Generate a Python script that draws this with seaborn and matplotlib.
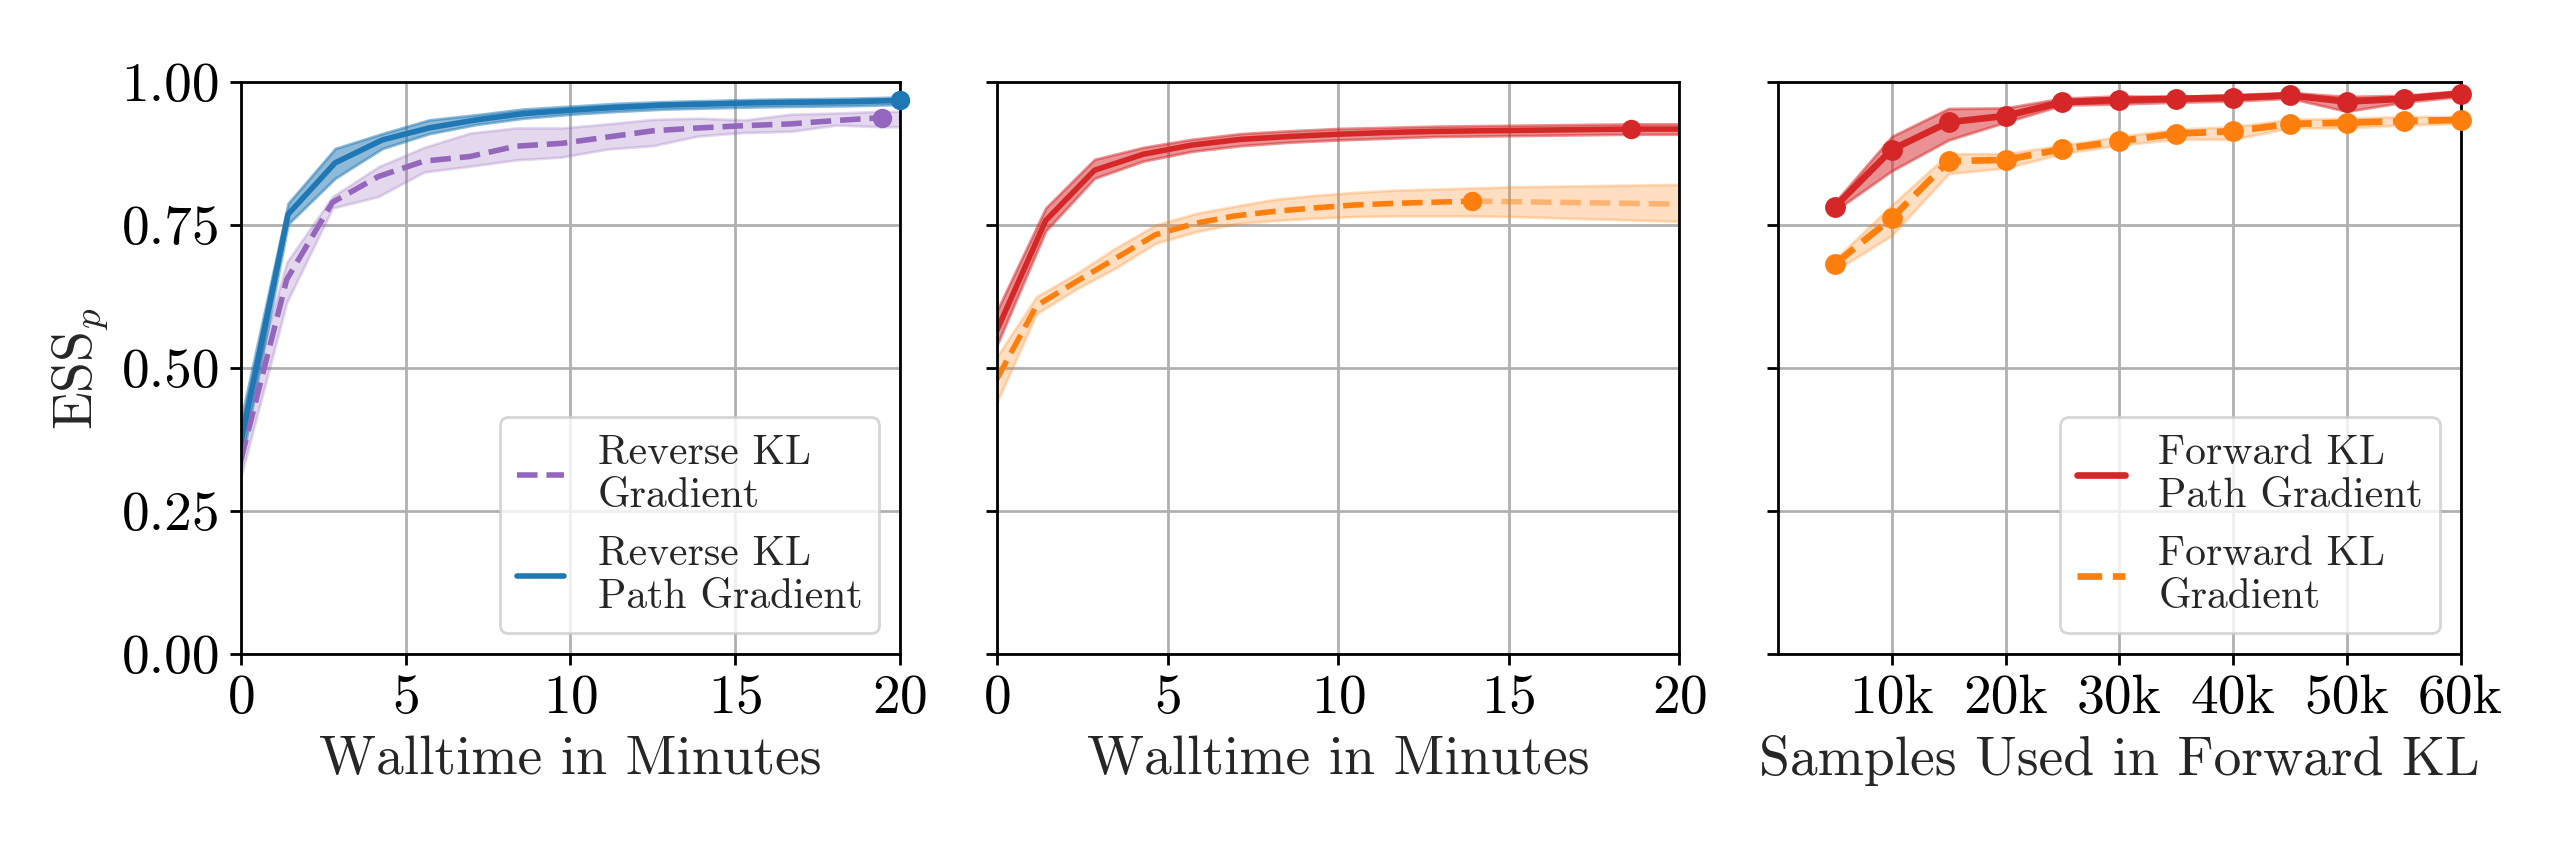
import numpy as np
import matplotlib
matplotlib.use("Agg")
import matplotlib.pyplot as plt
import seaborn as sns

# ---- data ----
# left panel: reverse KL, walltime in minutes
rkl_path_t = [0, 1.43, 2.86, 4.29, 5.71, 7.14, 8.57, 10.0, 11.43, 12.86, 14.29, 15.71, 17.14, 18.57, 20.0]
rkl_path_mean = [0.37, 0.769, 0.859, 0.899, 0.920, 0.934, 0.945, 0.951, 0.956, 0.960, 0.962, 0.964, 0.965, 0.966, 0.968]
rkl_path_lo = [0.33, 0.752, 0.832, 0.884, 0.910, 0.926, 0.937, 0.944, 0.949, 0.953, 0.955, 0.957, 0.958, 0.959, 0.961]
rkl_path_hi = [0.41, 0.788, 0.884, 0.910, 0.934, 0.943, 0.953, 0.958, 0.963, 0.966, 0.968, 0.970, 0.971, 0.972, 0.974]

rkl_grad_t = [0, 1.39, 2.78, 4.17, 5.56, 6.95, 8.34, 9.73, 11.12, 12.51, 13.9, 15.29, 16.68, 18.07, 19.46, 20.85]
rkl_grad_mean = [0.34, 0.655, 0.790, 0.835, 0.862, 0.870, 0.888, 0.893, 0.904, 0.915, 0.920, 0.924, 0.927, 0.933, 0.938, 0.937]
rkl_grad_lo = [0.31, 0.615, 0.780, 0.800, 0.843, 0.853, 0.864, 0.869, 0.883, 0.889, 0.906, 0.912, 0.914, 0.925, 0.922, 0.922]
rkl_grad_hi = [0.40, 0.685, 0.800, 0.852, 0.886, 0.911, 0.920, 0.920, 0.927, 0.935, 0.937, 0.934, 0.944, 0.946, 0.949, 0.949]

# middle panel: forward KL, walltime in minutes
fkl_path_t = [0, 1.43, 2.86, 4.29, 5.71, 7.14, 8.57, 10.0, 11.43, 12.86, 14.29, 15.71, 17.14, 18.57, 20.0]
fkl_path_mean = [0.566, 0.758, 0.846, 0.874, 0.890, 0.900, 0.905, 0.909, 0.912, 0.914, 0.915, 0.916, 0.917, 0.918, 0.918]
fkl_path_lo = [0.54, 0.740, 0.832, 0.862, 0.879, 0.889, 0.895, 0.899, 0.902, 0.905, 0.906, 0.907, 0.908, 0.909, 0.909]
fkl_path_hi = [0.60, 0.780, 0.865, 0.886, 0.900, 0.910, 0.915, 0.919, 0.921, 0.923, 0.924, 0.925, 0.926, 0.927, 0.927]

fkl_grad_t = [0, 1.16, 2.32, 3.48, 4.64, 5.8, 6.96, 8.12, 9.28, 10.44, 11.6, 12.76, 13.92, 15.08, 16.24, 17.4, 18.56, 19.72, 20.88]
fkl_grad_mean = [0.481, 0.609, 0.651, 0.692, 0.733, 0.753, 0.766, 0.774, 0.780, 0.785, 0.788, 0.790, 0.792, 0.791, 0.790, 0.789, 0.788, 0.787, 0.786]
fkl_grad_lo = [0.44, 0.595, 0.638, 0.675, 0.718, 0.738, 0.752, 0.758, 0.762, 0.765, 0.766, 0.766, 0.766, 0.765, 0.763, 0.761, 0.759, 0.757, 0.755]
fkl_grad_hi = [0.52, 0.625, 0.665, 0.710, 0.750, 0.770, 0.783, 0.795, 0.802, 0.807, 0.811, 0.813, 0.815, 0.817, 0.818, 0.819, 0.820, 0.821, 0.822]

# right panel: forward KL vs samples
samples = [5000, 10000, 15000, 20000, 25000, 30000, 35000, 40000, 45000, 50000, 55000, 60000]
smp_path_mean = [0.782, 0.882, 0.930, 0.941, 0.965, 0.969, 0.971, 0.973, 0.977, 0.966, 0.971, 0.980]
smp_path_lo = [0.775, 0.845, 0.899, 0.930, 0.960, 0.962, 0.965, 0.967, 0.972, 0.949, 0.965, 0.975]
smp_path_hi = [0.790, 0.905, 0.954, 0.955, 0.972, 0.976, 0.975, 0.978, 0.982, 0.975, 0.977, 0.985]
smp_grad_mean = [0.682, 0.762, 0.862, 0.864, 0.883, 0.897, 0.910, 0.914, 0.927, 0.929, 0.932, 0.934]
smp_grad_lo = [0.670, 0.732, 0.840, 0.850, 0.875, 0.890, 0.900, 0.900, 0.920, 0.920, 0.925, 0.928]
smp_grad_hi = [0.690, 0.785, 0.875, 0.875, 0.890, 0.905, 0.918, 0.922, 0.935, 0.937, 0.940, 0.940]

xticks_samples = [10000, 20000, 30000, 40000, 50000, 60000]
xtick_labels_samples = ["10k", "20k", "30k", "40k", "50k", "60k"]

blue = "#1f77b4"
purple = "#9467bd"
red = "#d62728"
orange = "#ff7f0e"

FS = 20

sns.set_style("ticks")
plt.rcParams["font.family"] = "serif"
plt.rcParams["font.serif"] = ["cmr10", "DejaVu Serif"]
plt.rcParams["mathtext.fontset"] = "cm"
plt.rcParams["axes.formatter.use_mathtext"] = True
plt.rcParams["axes.unicode_minus"] = False

fig = plt.figure(figsize=(12.83, 4.28), dpi=200)
ax1 = fig.add_axes([0.0939, 0.236, 0.2568, 0.668])
ax2 = fig.add_axes([0.3885, 0.236, 0.266, 0.668])
ax3 = fig.add_axes([0.6929, 0.236, 0.266, 0.668])


def band(ax, x, y, lo, hi, color, alpha, ls, label, mark=None, tail_alpha=None, lw=2.0, ms=6):
    ax.fill_between(x, lo, hi, color=color, alpha=alpha, lw=1)
    if tail_alpha is not None and mark is not None:
        sns.lineplot(x=x[:mark + 1], y=y[:mark + 1], ax=ax, color=color, lw=lw,
                     linestyle=ls, label=label)
        sns.lineplot(x=x[mark:], y=y[mark:], ax=ax, color=color, lw=lw,
                     linestyle=ls, alpha=tail_alpha)
    else:
        sns.lineplot(x=x, y=y, ax=ax, color=color, lw=lw, linestyle=ls, label=label)
    if mark is not None:
        ax.plot([x[mark]], [y[mark]], "o", color=color, ms=ms, clip_on=False, zorder=5)


# left panel
band(ax1, rkl_grad_t, rkl_grad_mean, rkl_grad_lo, rkl_grad_hi, purple, 0.25, "--",
     "Reverse KL\nGradient", mark=14)
band(ax1, rkl_path_t, rkl_path_mean, rkl_path_lo, rkl_path_hi, blue, 0.5, "-",
     "Reverse KL\nPath Gradient", mark=14)

# middle panel
band(ax2, fkl_path_t, fkl_path_mean, fkl_path_lo, fkl_path_hi, red, 0.5, "-", None, mark=13)
band(ax2, fkl_grad_t, fkl_grad_mean, fkl_grad_lo, fkl_grad_hi, orange, 0.25, "--", None,
     mark=12, tail_alpha=0.45)

# right panel
ax3.fill_between(samples, smp_path_lo, smp_path_hi, color=red, alpha=0.5, lw=1)
sns.lineplot(x=samples, y=smp_path_mean, ax=ax3, color=red, lw=2.4, label="Forward KL\nPath Gradient")
ax3.plot(samples, smp_path_mean, "o", color=red, ms=6.5, clip_on=False, zorder=5)
ax3.fill_between(samples, smp_grad_lo, smp_grad_hi, color=orange, alpha=0.25, lw=1)
sns.lineplot(x=samples, y=smp_grad_mean, ax=ax3, color=orange, lw=2.4, linestyle="--",
             label="Forward KL\nGradient")
ax3.plot(samples, smp_grad_mean, "o", color=orange, ms=6.5, clip_on=False, zorder=5)

for ax in (ax1, ax2, ax3):
    ax.set_ylim(0, 1)
    ax.set_yticks([0, 0.25, 0.5, 0.75, 1.0])
    ax.grid(True, color="#b0b0b0", lw=1.0)
    ax.tick_params(labelsize=FS, direction="out", length=4, width=1, colors="black")
    for s in ax.spines.values():
        s.set_visible(True)
        s.set_color("black")
        s.set_linewidth(1)
    ax.set_ylabel("")

for ax in (ax1, ax2):
    ax.set_xlim(0, 20)
    ax.set_xticks([0, 5, 10, 15, 20])
    ax.set_xlabel("Walltime in Minutes", fontsize=FS)

ax1.set_yticklabels(["0.00", "0.25", "0.50", "0.75", "1.00"])
ax1.set_ylabel("ESS$_p$", fontsize=FS)
ax2.set_yticklabels([])
ax3.set_yticklabels([])

ax3.set_xlim(0, 60000)
ax3.set_xticks(xticks_samples)
ax3.set_xticklabels(xtick_labels_samples)
ax3.set_xlabel("Samples Used in Forward KL", fontsize=FS)

leg_kw = dict(loc="lower right", fontsize=15, framealpha=0.8, edgecolor="#cccccc",
              handlelength=1.15)
ax1.legend(**leg_kw)
ax3.legend(**leg_kw)
if ax2.get_legend() is not None:
    ax2.get_legend().remove()

fig.savefig("out.png", dpi=200)
